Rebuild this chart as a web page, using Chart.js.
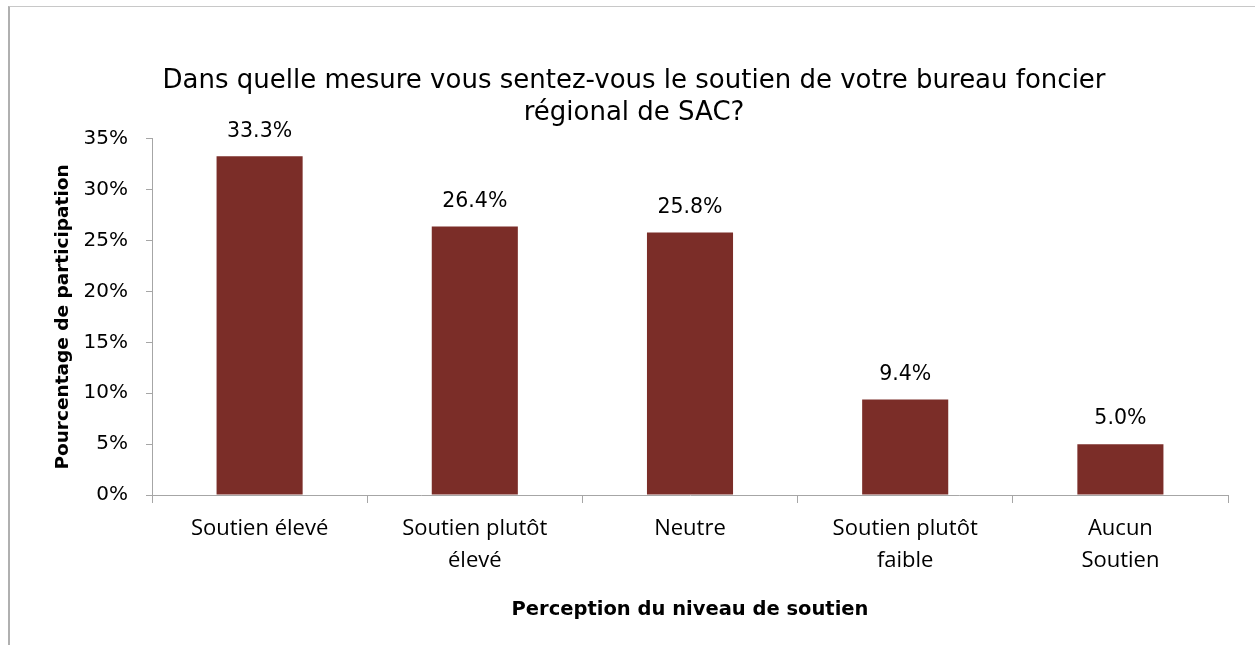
<!DOCTYPE html>
<html>
<head>
<meta charset="utf-8">
<script src="https://cdn.jsdelivr.net/npm/chart.js@4"></script>
<style>
    html, body { margin: 0; padding: 0; background: #fff; overflow: hidden; }
    #frame {
        position: absolute; left: 8px; top: 6px; width: 1400px; height: 800px;
        border-left: 2px solid #b0b0b0; border-top: 1px solid #c8c8c8;
    }
    #wrap { position: absolute; left: 0; top: 0; width: 1255px; height: 645px; }
</style>
</head>
<body>
<div id="frame"></div>
<div id="wrap"><canvas id="chart" width="1255" height="645"></canvas></div>
<script>
// Data
const categories = [
    'Soutien élevé',
    ['Soutien plutôt', 'élevé'],
    'Neutre',
    ['Soutien plutôt', 'faible'],
    ['Aucun', 'Soutien']
];
const percentages = [33.3, 26.4, 25.8, 9.4, 5.0];
const yTicks = [0, 5, 10, 15, 20, 25, 30, 35];

const chartTitle = ['Dans quelle mesure vous sentez-vous le soutien de votre bureau foncier', 'régional de SAC?'];
const xTitle = 'Perception du niveau de soutien';
const yTitle = 'Pourcentage de participation';

// Value labels above bars
const barLabels = {
    id: 'barLabels',
    afterDatasetsDraw(chart) {
        const ctx = chart.ctx;
        const meta = chart.getDatasetMeta(0);
        ctx.save();
        ctx.font = '20.5px "DejaVu Sans"';
        ctx.fillStyle = '#000';
        ctx.textAlign = 'center';
        ctx.textBaseline = 'middle';
        meta.data.forEach((bar, i) => {
            ctx.fillText(percentages[i].toFixed(1) + '%', bar.x, bar.y - 25);
        });
        ctx.restore();
    }
};

const ctx = document.getElementById('chart').getContext('2d');
new Chart(ctx, {
    type: 'bar',
    data: {
        labels: categories,
        datasets: [{
            data: percentages,
            backgroundColor: '#7b2d28',
            categoryPercentage: 1,
            barPercentage: 0.4
        }]
    },
    options: {
        responsive: false,
        animation: false,
        layout: { padding: { left: 40, right: 27, top: 0, bottom: 15 } },
        plugins: {
            legend: { display: false },
            tooltip: { enabled: false },
            title: {
                display: true,
                text: chartTitle,
                color: '#000',
                font: { family: 'DejaVu Sans', size: 26, weight: 'normal', lineHeight: 1.23 },
                padding: { top: 65, bottom: 10 }
            }
        },
        scales: {
            x: {
                grid: { offset: true, drawOnChartArea: false, tickLength: 8, color: '#a6a6a6' },
                border: { display: true, color: '#a6a6a6' },
                ticks: {
                    color: '#000',
                    font: { family: 'Open Sans', size: 22, lineHeight: 1.46 },
                    padding: 10,
                    maxRotation: 0,
                    autoSkip: false
                },
                title: {
                    display: true,
                    text: xTitle,
                    color: '#000',
                    font: { family: 'DejaVu Sans', size: 19.5, weight: 'bold', lineHeight: 1.2 },
                    padding: { top: 0, bottom: 8 }
                },
                afterFit(scale) { scale.height = 135; }
            },
            y: {
                min: 0,
                max: 35,
                afterBuildTicks(scale) { scale.ticks = yTicks.map(v => ({ value: v })); },
                grid: { drawOnChartArea: false, tickLength: 6, color: '#a6a6a6' },
                border: { display: true, color: '#a6a6a6' },
                ticks: {
                    color: '#000',
                    font: { family: 'DejaVu Sans', size: 20 },
                    padding: 18,
                    callback: v => v + '%'
                },
                title: {
                    display: true,
                    text: yTitle,
                    color: '#000',
                    font: { family: 'DejaVu Sans', size: 18.5, weight: 'bold', lineHeight: 1.2 },
                    padding: { top: 12, bottom: 0 }
                },
                afterFit(scale) { scale.width = 112; }
            }
        }
    },
    plugins: [barLabels]
});
</script>
</body>
</html>
